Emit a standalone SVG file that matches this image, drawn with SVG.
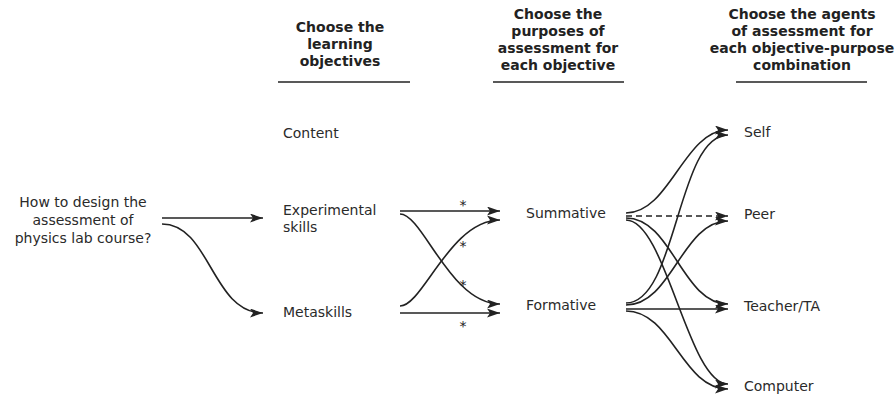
<svg xmlns="http://www.w3.org/2000/svg" width="896" height="396" viewBox="0 0 896 396">
<defs>
<style>
text{font-family:"DejaVu Sans","Verdana",sans-serif;font-size:14px;fill:#2a2a2a}
.h{font-weight:bold;text-anchor:middle;fill:#222}
.c{text-anchor:middle}
.star{font-size:14px;text-anchor:middle;fill:#222}
.rule{stroke:#222;stroke-width:1.5}
.e{fill:none;stroke:#222;stroke-width:1.6;marker-end:url(#ah)}
.d{stroke-dasharray:6 4}
</style>
<marker id="ah" markerUnits="userSpaceOnUse" markerWidth="14" markerHeight="10" refX="13" refY="4.5" orient="auto">
<path d="M0,0 L13,4.5 L0,9 L3,4.5 z" fill="#222"/>
</marker>
</defs>
<rect width="896" height="396" fill="#fff"/>
<g id="header-objectives">
<text class="h" x="340" y="32">Choose the</text>
<text class="h" x="340" y="49">learning</text>
<text class="h" x="340" y="66">objectives</text>
<line class="rule" x1="278" y1="82" x2="410" y2="82"/>
</g>
<g id="header-purposes">
<text class="h" x="558" y="19">Choose the</text>
<text class="h" x="558" y="36">purposes of</text>
<text class="h" x="558" y="53">assessment for</text>
<text class="h" x="558" y="70">each objective</text>
<line class="rule" x1="493" y1="82" x2="624" y2="82"/>
</g>
<g id="header-agents">
<text class="h" x="802" y="19">Choose the agents</text>
<text class="h" x="802" y="36">of assessment for</text>
<text class="h" x="802" y="53">each objective-purpose</text>
<text class="h" x="802" y="70">combination</text>
<line class="rule" x1="736" y1="82" x2="867" y2="82"/>
</g>
<g id="question">
<text class="c" x="83" y="207">How to design the</text>
<text class="c" x="83" y="225">assessment of</text>
<text class="c" x="83" y="243">physics lab course?</text>
</g>
<g id="content"><text x="283" y="138">Content</text></g>
<g id="experimental"><text x="283" y="215">Experimental</text><text x="283" y="232">skills</text></g>
<g id="metaskills"><text x="283" y="317">Metaskills</text></g>
<g id="summative"><text x="526" y="218">Summative</text></g>
<g id="formative"><text x="526" y="310">Formative</text></g>
<g id="self"><text x="744" y="137">Self</text></g>
<g id="peer"><text x="744" y="219">Peer</text></g>
<g id="teacher"><text x="744" y="311">Teacher/TA</text></g>
<g id="computer"><text x="744" y="391">Computer</text></g>
<g id="connectors">
<path class="e" d="M162,218 L263,218"/>
<path class="e" d="M162,224 C210,224 212,313 263,313"/>
<path class="e" d="M400,211 L500,211"/>
<path class="e" d="M400,214 C423,214 450,304 500,304"/>
<path class="e" d="M400,306 C423,306 450,220 500,220"/>
<path class="e" d="M400,313 L500,313"/>
<text class="star" x="463" y="210">*</text>
<text class="star" x="463" y="251">*</text>
<text class="star" x="463" y="290">*</text>
<text class="star" x="463" y="331">*</text>
<path class="e" d="M626,213 C670,213 684,130 728,130"/>
<path class="e d" d="M626,216 L728,216"/>
<path class="e" d="M626,218 C672,218 682,304 728,304"/>
<path class="e" d="M626,220 C666,220 688,384 728,384"/>
<path class="e" d="M626,303 C677,303 677,135 728,135"/>
<path class="e" d="M626,305 C672,305 682,221 728,221"/>
<path class="e" d="M626,309 L728,309"/>
<path class="e" d="M626,311 C672,311 682,389 728,389"/>
</g>
</svg>
